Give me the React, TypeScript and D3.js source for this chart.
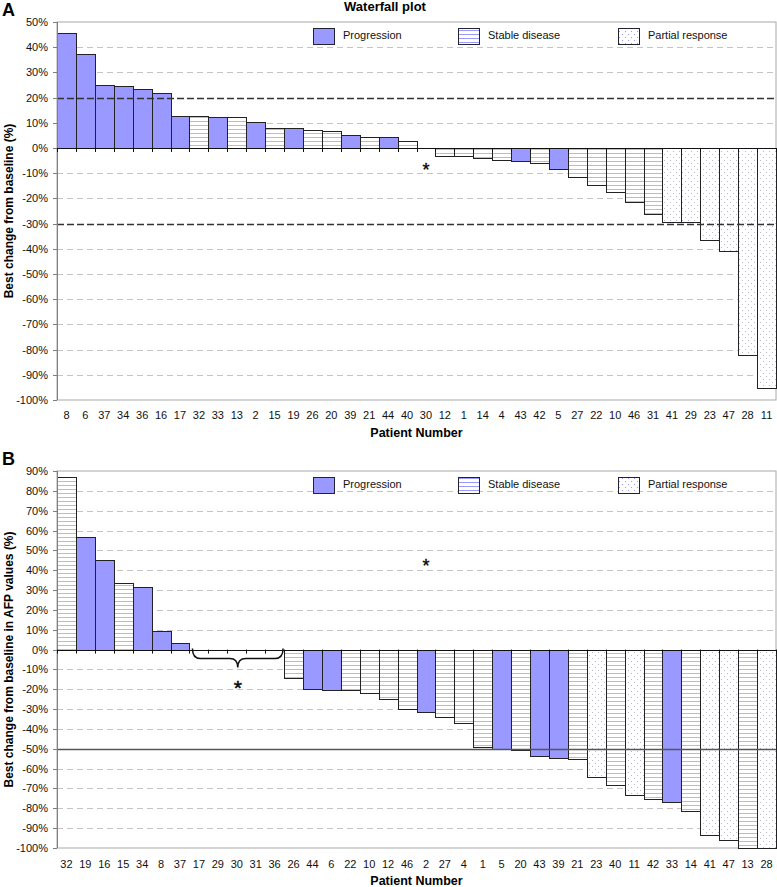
import React from "react";
import * as d3 from "d3";

// ---------- Data ----------
const legendLabels = ["Progression", "Stable disease", "Partial response"];

const patientsA = ["8","6","37","34","36","16","17","32","33","13","2","15","19","26","20","39","21","44","40","30","12","1","14","4","43","42","5","27","22","10","46","31","41","29","23","47","28","11"];
const changeA = [45.6,37.4,25.0,24.5,23.3,21.7,12.6,12.6,12.2,12.2,10.3,7.9,7.8,7.0,6.6,5.0,4.4,4.2,2.6,0,-3.3,-3.3,-4.0,-4.6,-5.2,-6.0,-8.5,-11.5,-14.6,-17.6,-21.6,-26.1,-29.5,-29.5,-36.4,-40.9,-82.3,-95.4];
const responseA = ["P","P","P","P","P","P","P","S","P","S","P","S","P","S","S","P","S","P","S","","S","S","S","S","P","S","P","S","S","S","S","S","R","R","R","R","R","R"];
const yTicksA = [50,40,30,20,10,0,-10,-20,-30,-40,-50,-60,-70,-80,-90,-100];
const refLinesA = [20, -30];

const patientsB = ["32","19","16","15","34","8","37","17","29","30","31","36","26","44","6","22","10","12","46","2","27","4","1","5","20","43","39","21","23","40","11","42","33","14","41","47","13","28"];
const changeB = [86.8,56.5,45.2,33.6,31.5,9.6,3.2,0,0,0,0,0,-14.2,-19.7,-20.2,-20.2,-21.8,-25.0,-30.0,-31.4,-33.9,-36.9,-49.2,-50.1,-50.6,-53.5,-54.8,-55.3,-64.2,-68.0,-73.2,-75.2,-76.6,-81.6,-93.4,-96.1,-100,-100];
const responseB = ["S","P","P","S","P","P","P","","","","","","S","P","P","S","S","S","S","P","S","S","S","P","S","P","P","S","R","S","R","S","P","S","R","R","S","R"];
const yTicksB = [90,80,70,60,50,40,30,20,10,0,-10,-20,-30,-40,-50,-60,-70,-80,-90,-100];
const refLineB = -50;

const FONT = "'Liberation Sans', Arial, sans-serif";
const PROG = "#9999ff";

const fillFor = (r: string) =>
  r === "P" ? PROG : r === "S" ? "url(#hlines)" : r === "R" ? "url(#dots)" : "none";

type PanelProps = {
  top: number; bottom: number; domain: [number, number]; ticks: number[];
  patients: string[]; values: number[]; resp: string[];
  letter: string; ylabel: string; legendTextY: number; legendSwY: number;
  catLabelY: number; xLabelY: number; children?: (x: any, y: any) => React.ReactNode;
  refDashed?: number[]; refSolid?: number[];
};

const X0 = 57, X1 = 776;

function Panel(p: PanelProps) {
  const idx = p.patients.map((_, i) => i);
  const x = d3.scaleBand<number>().domain(idx).range([X0, X1]).padding(0);
  const y = d3.scaleLinear().domain(p.domain).range([p.bottom, p.top]);
  const bw = x.bandwidth();
  const y0 = y(0);
  const legendX = [313, 458, 618];
  return (
    <g>
      <text x={2} y={p.top - 6} fontFamily={FONT} fontWeight="bold" fontSize={18}>{p.letter}</text>
      <rect x={X0} y={p.top} width={X1 - X0} height={p.bottom - p.top} fill="#fff" stroke="#a8a8a8" strokeWidth={1} />
      {p.ticks.filter(t => t !== 0 && t !== p.domain[0] && t !== p.domain[1] && !(p.refDashed || []).includes(t) && !(p.refSolid || []).includes(t)).map(t => (
        <line key={"g" + t} x1={X0} x2={X1} y1={Math.round(y(t)) + 0.5} y2={Math.round(y(t)) + 0.5} stroke="#c4c4c4" strokeWidth={1} strokeDasharray="6,4" />
      ))}
      {p.values.map((v, i) => {
        if (p.resp[i] === "" || v === 0) return null;
        const yt = Math.round(Math.min(y(v), y0));
        const yb = Math.round(Math.max(y(v), y0));
        return (
          <rect key={"b" + i} x={Math.round(x(i)!) + 0.5} y={yt + 0.5} width={Math.round(x(i)! + bw) - Math.round(x(i)!)} height={Math.max(yb - yt, 1)}
            fill={fillFor(p.resp[i])} stroke="#222" strokeWidth={1} />
        );
      })}
      {(p.refDashed || []).map(t => (
        <line key={"rd" + t} x1={X0} x2={X1} y1={Math.round(y(t)) + 0.5} y2={Math.round(y(t)) + 0.5} stroke="#333" strokeWidth={1.3} strokeDasharray="7,3" />
      ))}
      {(p.refSolid || []).map(t => (
        <line key={"rs" + t} x1={X0} x2={X1} y1={Math.round(y(t)) + 0.5} y2={Math.round(y(t)) + 0.5} stroke="#555" strokeWidth={1.6} />
      ))}
      <line x1={X0 + 0.5} x2={X0 + 0.5} y1={p.top} y2={p.bottom} stroke="#808080" strokeWidth={1} />
      {p.ticks.map(t => (
        <g key={"t" + t}>
          <line x1={X0 - 4} x2={X0} y1={Math.round(y(t)) + 0.5} y2={Math.round(y(t)) + 0.5} stroke="#808080" />
          <text x={48} y={y(t) + 4} textAnchor="end" fontFamily={FONT} fontSize={11} fill="#111">{t + "%"}</text>
        </g>
      ))}
      <line x1={X0} x2={X1} y1={Math.round(y0) + 0.5} y2={Math.round(y0) + 0.5} stroke="#111" strokeWidth={1.2} />
      {idx.concat([p.patients.length]).map(i => {
        const xx = Math.round(i < p.patients.length ? x(i)! : X1) + 0.5;
        return <line key={"ct" + i} x1={xx} x2={xx} y1={y0} y2={y0 + 4} stroke="#111" />;
      })}
      {p.patients.map((c, i) => (
        <text key={"c" + i} x={x(i)! + bw / 2} y={p.catLabelY} textAnchor="middle" fontFamily={FONT} fontSize={11} fill="#111">{c}</text>
      ))}
      <text x={(X0 + X1) / 2} y={p.xLabelY} textAnchor="middle" fontFamily={FONT} fontSize={12.5} fontWeight="bold">Patient Number</text>
      <text transform={`translate(13,${(p.top + p.bottom) / 2}) rotate(-90)`} textAnchor="middle" fontFamily={FONT} fontSize={12} fontWeight="bold">{p.ylabel}</text>
      {legendLabels.map((l, i) => (
        <g key={"l" + i}>
          <rect x={legendX[i] + 0.5} y={p.legendSwY + 0.5} width={21} height={16}
            fill={i === 0 ? PROG : i === 1 ? "url(#hlinesLeg)" : "url(#dotsLeg)"} stroke="#223" strokeWidth={1} />
          <text x={legendX[i] + 30} y={p.legendTextY} fontFamily={FONT} fontSize={11} fill="#111">{l}</text>
        </g>
      ))}
      {p.children ? p.children(x, y) : null}
    </g>
  );
}

export default function App() {
  return (
    <svg width={777} height={887} style={{ position: "absolute", left: 0, top: 0, display: "block", background: "#fff" }}>
      <defs>
        <pattern id="hlines" width={4} height={4} patternUnits="userSpaceOnUse">
          <rect width={4} height={4} fill="#fff" />
          <rect y={1} width={4} height={1} fill="#bdbdbd" />
        </pattern>
        <pattern id="dots" width={6} height={6} patternUnits="userSpaceOnUse">
          <rect width={6} height={6} fill="#fff" />
          <rect x={1} y={1} width={1} height={1} fill="#b8b8c8" />
          <rect x={4} y={4} width={1} height={1} fill="#b8b8c8" />
        </pattern>
        <pattern id="hlinesLeg" width={4} height={4} patternUnits="userSpaceOnUse">
          <rect width={4} height={4} fill="#fff" />
          <rect y={2} width={4} height={1} fill="#9999ff" />
        </pattern>
        <pattern id="dotsLeg" width={6} height={6} patternUnits="userSpaceOnUse">
          <rect width={6} height={6} fill="#fff" />
          <rect x={1} y={1} width={1} height={1} fill="#9999ff" />
          <rect x={4} y={4} width={1} height={1} fill="#9999ff" />
        </pattern>
      </defs>
      <rect width={777} height={887} fill="#fff" />
      <text x={385} y={11} textAnchor="middle" fontFamily={FONT} fontSize={13} fontWeight="bold">Waterfall plot</text>
      <Panel top={22} bottom={400} domain={[-100, 50]} ticks={yTicksA}
        patients={patientsA} values={changeA} resp={responseA}
        letter="A" ylabel="Best change from baseline (%)"
        legendSwY={28} legendTextY={39} catLabelY={419} xLabelY={437}
        refDashed={refLinesA}>
        {(x, y) => (
          <text x={x(19) + x.bandwidth() / 2} y={y(-7.2) + 10} textAnchor="middle" fontFamily={FONT} fontSize={18} stroke="#111" strokeWidth={0.4}>*</text>
        )}
      </Panel>
      <Panel top={471} bottom={848} domain={[-100, 90]} ticks={yTicksB}
        patients={patientsB} values={changeB} resp={responseB}
        letter="B" ylabel="Best change from baseline in AFP values (%)"
        legendSwY={477} legendTextY={488} catLabelY={868} xLabelY={885}
        refSolid={[refLineB]}>
        {(x, y) => {
          const xa = x(7) + 3, xb = x(12) - 1, xm = (xa + xb) / 2;
          const ya = y(0) - 1, yh = y(0) + 9, yt = y(0) + 18;
          const d = `M${xa},${ya} Q${xa},${yh} ${xa + 8},${yh} L${xm - 8},${yh} Q${xm},${yh} ${xm},${yt} Q${xm},${yh} ${xm + 8},${yh} L${xb - 8},${yh} Q${xb},${yh} ${xb},${ya}`;
          return (
            <g>
              <path d={d} fill="none" stroke="#111" strokeWidth={1.5} />
              <text x={xm} y={y(-17.5) + 11} textAnchor="middle" fontFamily={FONT} fontSize={21} stroke="#111" strokeWidth={0.5}>*</text>
              <text x={x(19) + x.bandwidth() / 2} y={y(44) + 10} textAnchor="middle" fontFamily={FONT} fontSize={18} stroke="#111" strokeWidth={0.4}>*</text>
            </g>
          );
        }}
      </Panel>
    </svg>
  );
}
